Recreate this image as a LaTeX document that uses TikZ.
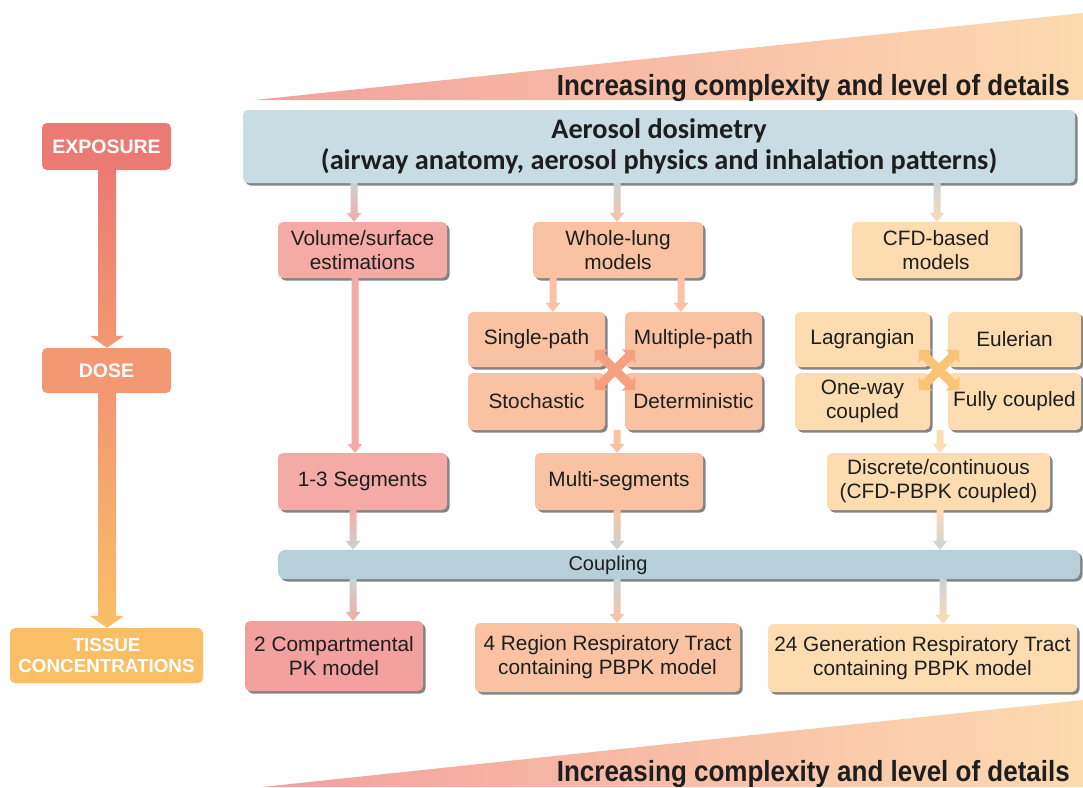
\documentclass[tikz,border=0pt]{standalone}
\usepackage{fontspec}
\setmainfont{Liberation Sans}
\newfontfamily\calibfont{Carlito}
\usetikzlibrary{shadows,calc,arrows.meta}

\definecolor{pinkbox}{HTML}{F4AAA5}
\definecolor{pinkdeep}{HTML}{F2A19F}
\definecolor{peachbox}{HTML}{F9C3A3}
\definecolor{lightbox}{HTML}{FDDCB2}
\definecolor{bluebox}{HTML}{C9DCE4}
\definecolor{bluebar}{HTML}{B6CFD8}
\definecolor{arrgray}{HTML}{C9D3D7}
\definecolor{expcol}{HTML}{EC7A74}
\definecolor{dosecol}{HTML}{F29872}
\definecolor{tisscol}{HTML}{F9BF67}
\definecolor{txt}{HTML}{1E1E1E}
\definecolor{crossA}{HTML}{F5A07E}
\definecolor{crossB}{HTML}{F9C476}
\definecolor{triL}{HTML}{F2A19D}
\definecolor{triR}{HTML}{FDDAB0}
\definecolor{shad}{HTML}{666666}

\tikzset{
  mbox/.style={rectangle, rounded corners=5pt, align=center, text=txt,
    font=\fontsize{20.8}{24}\selectfont, inner sep=0pt,
    drop shadow={shadow xshift=2.5pt, shadow yshift=-2.5pt, fill=shad, opacity=0.8}},
  sbox/.style={rectangle, rounded corners=5pt, align=center, text=white,
    font=\bfseries\fontsize{19.5}{21}\selectfont, inner sep=0pt},
  sz/.style 2 args={minimum width=#1pt, minimum height=#2pt},
  crossarrow/.style={line width=9pt,
    {Triangle[width=19pt,length=9pt]}-{Triangle[width=19pt,length=9pt]}},
  bigtext/.style={anchor=base east, inner sep=0pt, text=txt,
    font=\bfseries\fontsize{26}{30}\selectfont},
}

% #1 x, #2 from, #3 to, #4 top colour, #5 bottom colour,
% #6 shaft half width, #7 head half width, #8 head length
\newcommand\flowarrow[8]{%
  \shade[top color=#4, bottom color=#5] let \p1=(#2), \p2=(#3) in
    ({(#1-#6)*1pt},\y1) -- ({(#1+#6)*1pt},\y1) -- ({(#1+#6)*1pt},\y2+#8pt)
    -- ({(#1+#7)*1pt},\y2+#8pt) -- ({#1*1pt},\y2) -- ({(#1-#7)*1pt},\y2+#8pt)
    -- ({(#1-#6)*1pt},\y2+#8pt) -- cycle;}

\begin{document}
\begin{tikzpicture}[x=1pt,y=-1pt]
\useasboundingbox (0,0) rectangle (1083,787);
\fill[white] (0,0) rectangle (1083,787);

% complexity wedges
\shade[left color=triL, right color=triR] (255,100) -- (1083,13) -- (1083,100) -- cycle;
\shade[left color=triL, right color=triR] (262,787) -- (1083,700) -- (1083,787) -- cycle;
\node[bigtext] (toptext) at (1070,95) {\scalebox{1}[1.12]{Increasing complexity and level of details}};
\node[bigtext] (bottext) at (1070,781) {\scalebox{1}[1.12]{Increasing complexity and level of details}};

% left column
\node[sbox, fill=expcol, sz={129}{47}] (exp) at (106.5,146.5) {EXPOSURE};
\node[sbox, fill=dosecol, sz={129}{45}] (dose) at (106.5,370.5) {DOSE};
\node[sbox, fill=tisscol, sz={193}{55}, font=\bfseries\fontsize{18.8}{21}\selectfont] (tiss) at (106.5,655.5) {TISSUE\\CONCENTRATIONS};
\flowarrow{107}{exp.south}{dose.north}{expcol}{dosecol}{9}{17}{12}
\flowarrow{107}{dose.south}{tiss.north}{dosecol}{tisscol}{9}{17}{12}

% main boxes
\node[mbox, fill=bluebox, sz={832}{73}, font=\calibfont\bfseries\fontsize{28.3}{31}\selectfont] (aero) at (659,146.5)
  {Aerosol dosimetry\\(airway anatomy, aerosol physics and inhalation patterns)};

\node[mbox, fill=pinkbox, sz={169}{56}] (vol) at (362.5,250) {Volume/surface\\estimations};
\node[mbox, fill=peachbox, sz={170}{56}] (whole) at (618,250) {Whole-lung\\models};
\node[mbox, fill=lightbox, sz={168}{56}] (cfd) at (936,250) {CFD-based\\models};

\node[mbox, fill=peachbox, sz={137}{55}] (single) at (536.5,339.5) {Single-path};
\node[mbox, fill=peachbox, sz={137}{55}] (multiple) at (693.5,339.5) {Multiple-path};
\node[mbox, fill=peachbox, sz={137}{57}] (stoch) at (536.5,401.5) {Stochastic};
\node[mbox, fill=peachbox, sz={137}{57}] (determ) at (693.5,401.5) {Deterministic};

\node[mbox, fill=lightbox, sz={135}{55}] (lagr) at (862.5,339.5) {Lagrangian};
\node[mbox, fill=lightbox, sz={133}{55}] (euler) at (1014.5,339.5) {Eulerian};
\node[mbox, fill=lightbox, sz={135}{57}] (oneway) at (862.5,401.5) {One-way\\coupled};
\node[mbox, fill=lightbox, sz={133}{57}] (fully) at (1014.5,401.5) {Fully coupled};

\node[mbox, fill=pinkbox, sz={169}{57}] (seg) at (362.5,481.5) {1-3 Segments};
\node[mbox, fill=peachbox, sz={168}{57}] (multiseg) at (619,481.5) {Multi-segments};
\node[mbox, fill=lightbox, sz={223}{57}] (discrete) at (938.5,481.5) {Discrete/continuous\\(CFD-PBPK coupled)};

\node[mbox, fill=bluebar, sz={802}{29}, rounded corners=7pt] (coup) at (679,564.5) {};
\node[text=txt, font=\fontsize{20}{24}\selectfont, inner sep=0pt] (couplabel) at (608,565) {Coupling};

\node[mbox, fill=pinkdeep, sz={178}{70}] (comp) at (334,656) {2 Compartmental\\PK model};
\node[mbox, fill=peachbox, sz={265}{69}] (region) at (607.5,657.5) {4 Region Respiratory Tract\\containing PBPK model};
\node[mbox, fill=lightbox, sz={309}{68}] (gen) at (922.5,658) {24 Generation Respiratory Tract\\containing PBPK model};

% crosses
\coordinate (xw) at ($(single.south east)!0.5!(determ.north west)$);
\coordinate (xc) at ($(lagr.south east)!0.5!(fully.north west)$);
\draw[crossA, crossarrow] ($(xw)+(-20,-20)$) -- ($(xw)+(20,20)$);
\draw[crossA, crossarrow] ($(xw)+(20,-20)$) -- ($(xw)+(-20,20)$);
\draw[crossB, crossarrow] ($(xc)+(-20,-20)$) -- ($(xc)+(20,20)$);
\draw[crossB, crossarrow] ($(xc)+(20,-20)$) -- ($(xc)+(-20,20)$);

% thin arrows
\flowarrow{354}{aero.south}{vol.north}{arrgray}{pinkbox}{3.5}{7.5}{9}
\flowarrow{617}{aero.south}{whole.north}{arrgray}{peachbox}{3.5}{7.5}{9}
\flowarrow{937}{aero.south}{cfd.north}{arrgray}{lightbox}{3.5}{7.5}{9}
\flowarrow{553}{whole.south}{single.north}{peachbox}{peachbox}{3.5}{7.5}{9}
\flowarrow{681}{whole.south}{multiple.north}{peachbox}{peachbox}{3.5}{7.5}{9}
\flowarrow{355}{vol.south}{seg.north}{pinkbox}{pinkbox}{3.5}{7.5}{9}
\flowarrow{617}{stoch.south}{multiseg.north}{peachbox}{peachbox}{3.5}{7.5}{9}
\flowarrow{940}{oneway.south}{discrete.north}{lightbox}{lightbox}{3.5}{7.5}{9}
\flowarrow{353}{seg.south}{coup.north}{pinkbox}{arrgray}{3.5}{7.5}{9}
\flowarrow{617}{multiseg.south}{coup.north}{peachbox}{arrgray}{3.5}{7.5}{9}
\flowarrow{940}{discrete.south}{coup.north}{lightbox}{arrgray}{3.5}{7.5}{9}
\flowarrow{353}{coup.south}{comp.north}{arrgray}{pinkbox}{3.5}{7.5}{9}
\flowarrow{617}{coup.south}{region.north}{arrgray}{peachbox}{3.5}{7.5}{9}
\flowarrow{943}{coup.south}{gen.north}{arrgray}{lightbox}{3.5}{7.5}{9}
\end{tikzpicture}
\end{document}
